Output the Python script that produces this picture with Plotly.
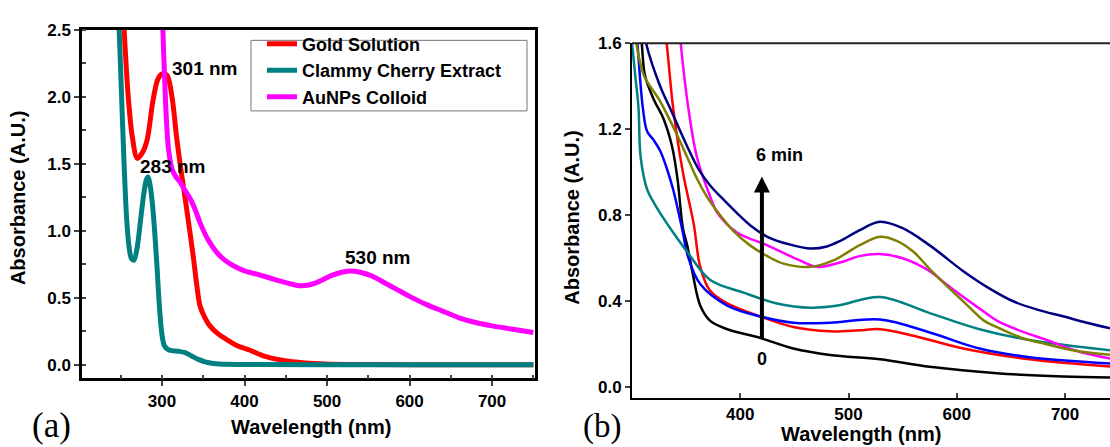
import plotly.graph_objects as go

# ---------------- Panel (a) data ----------------
gold_x = [250, 254, 259, 264, 270, 276, 282, 289, 295, 300, 306, 312, 318, 323, 328, 334, 338, 342, 346, 352, 358, 368, 378, 392, 406, 426, 458, 498, 550, 650, 750]
gold_y = [2.9, 2.5, 2.0, 1.7, 1.54, 1.58, 1.68, 1.97, 2.13, 2.17, 2.16, 2.0, 1.68, 1.45, 1.24, 0.98, 0.80, 0.60, 0.44, 0.35, 0.29, 0.23, 0.19, 0.14, 0.11, 0.06, 0.022, 0.006, 0.002, 0.0, 0.0]

cherry_x = [244, 248, 251, 254, 257, 260, 263, 266, 270, 274, 278, 281, 283, 285, 288, 291, 294, 297, 300, 303, 307, 312, 320, 328, 336, 344, 352, 362, 380, 420, 500, 750]
cherry_y = [3.0, 2.5, 2.0, 1.5, 1.1, 0.88, 0.79, 0.78, 0.88, 1.08, 1.28, 1.38, 1.40, 1.36, 1.22, 1.0, 0.72, 0.42, 0.22, 0.14, 0.115, 0.105, 0.10, 0.09, 0.065, 0.04, 0.022, 0.01, 0.003, 0.001, 0.0, 0.0]

aunp_x = [298, 301, 304, 306, 308, 312, 317, 322, 328, 334, 340, 346, 356, 366, 376, 386, 400, 418, 440, 455, 466, 478, 490, 505, 518, 529, 540, 555, 570, 585, 600, 620, 640, 660, 680, 700, 725, 750]
aunp_y = [3.2, 2.5, 2.0, 1.75, 1.6, 1.46, 1.40, 1.36, 1.30, 1.24, 1.16, 1.06, 0.93, 0.84, 0.78, 0.74, 0.70, 0.67, 0.63, 0.605, 0.59, 0.595, 0.62, 0.665, 0.69, 0.70, 0.69, 0.66, 0.61, 0.56, 0.51, 0.45, 0.40, 0.35, 0.315, 0.29, 0.265, 0.24]

series_a_names = ["Gold Solution", "Clammy Cherry Extract", "AuNPs Colloid"]
series_a_colors = ["#FF0000", "#008080", "#FF00FF"]

peak_labels = ["301 nm", "283 nm", "530 nm"]
peak_label_x = [351, 313, 561]
peak_label_y = [2.21, 1.48, 0.80]

# ---------------- Panel (b) data (time series) ----------------
t0_x = [305, 309, 312, 320, 329, 337, 342, 347, 351, 356, 363, 372, 388, 418, 449, 483, 529, 575, 637, 698, 745]
t0_y = [1.8, 1.6, 1.45, 1.34, 1.25, 1.12, 0.97, 0.74, 0.66, 0.53, 0.38, 0.31, 0.27, 0.23, 0.18, 0.15, 0.13, 0.095, 0.065, 0.05, 0.045]

t1_x = [328, 332, 338, 347, 357, 363, 372, 388, 418, 449, 483, 510, 529, 560, 606, 667, 745]
t1_y = [1.75, 1.6, 1.30, 1.0, 0.76, 0.56, 0.45, 0.39, 0.33, 0.28, 0.26, 0.265, 0.27, 0.24, 0.18, 0.13, 0.095]

t2_x = [300, 305, 310, 314, 320, 326, 332, 338, 347, 351, 363, 388, 418, 449, 483, 529, 575, 621, 667, 745]
t2_y = [1.9, 1.6, 1.30, 1.19, 1.15, 1.10, 1.02, 0.92, 0.72, 0.62, 0.48, 0.38, 0.33, 0.30, 0.30, 0.315, 0.255, 0.18, 0.14, 0.11]

t3_x = [300, 303, 306, 308, 314, 320, 326, 338, 351, 372, 403, 434, 465, 490, 529, 575, 621, 667, 745]
t3_y = [1.6, 1.45, 1.30, 1.07, 0.92, 0.86, 0.81, 0.72, 0.63, 0.50, 0.44, 0.39, 0.37, 0.38, 0.42, 0.345, 0.27, 0.22, 0.17]

t4_x = [340, 345, 352, 360, 372, 379, 397, 425, 455, 471, 492, 510, 529, 550, 575, 590, 606, 620, 637, 660, 683, 710, 745]
t4_y = [1.9, 1.6, 1.30, 1.07, 0.89, 0.81, 0.72, 0.66, 0.59, 0.56, 0.58, 0.61, 0.62, 0.60, 0.54, 0.48, 0.42, 0.37, 0.31, 0.26, 0.22, 0.17, 0.13]

t5_x = [300, 304, 311, 326, 342, 351, 360, 370, 380, 395, 409, 425, 440, 465, 486, 510, 529, 545, 560, 575, 591, 610, 625, 637, 660, 683, 710, 745]
t5_y = [1.75, 1.6, 1.45, 1.33, 1.17, 1.07, 0.97, 0.88, 0.81, 0.72, 0.66, 0.61, 0.575, 0.56, 0.59, 0.66, 0.70, 0.68, 0.63, 0.55, 0.47, 0.38, 0.31, 0.28, 0.23, 0.20, 0.17, 0.15]

t6_x = [308, 313, 326, 335, 351, 362, 372, 385, 397, 410, 425, 445, 465, 480, 492, 510, 529, 550, 575, 606, 630, 652, 675, 698, 720, 745]
t6_y = [1.75, 1.6, 1.40, 1.30, 1.12, 1.01, 0.94, 0.87, 0.81, 0.75, 0.70, 0.665, 0.645, 0.655, 0.68, 0.73, 0.77, 0.74, 0.66, 0.54, 0.46, 0.40, 0.36, 0.33, 0.30, 0.27]

series_b_colors = ["#000000", "#FF0000", "#0000FF", "#008080", "#FF00FF", "#808000", "#000080"]

arrow_x = 420
arrow_y_start = 0.22
arrow_y_end = 0.98
arrow_labels = ["6 min", "0"]

xticks_a = [300, 400, 500, 600, 700]
yticks_a = [0.0, 0.5, 1.0, 1.5, 2.0, 2.5]
xticks_b = [400, 500, 600, 700]
yticks_b = [0.0, 0.4, 0.8, 1.2, 1.6]

# ---------------- Figure ----------------
W, H = 1110, 447
FONT = "Arial, 'Liberation Sans', sans-serif"

def px_x(p):
    return p / W

def px_y(p):
    return 1 - p / H

fig = go.Figure()

for xs, ys, name, col in zip([gold_x, cherry_x, aunp_x], [gold_y, cherry_y, aunp_y],
                             series_a_names, series_a_colors):
    fig.add_trace(go.Scatter(x=xs, y=ys, name=name, mode="lines",
                             line=dict(color=col, width=5, shape="spline", smoothing=0.9),
                             xaxis="x", yaxis="y"))

for xs, ys, col in zip([t0_x, t1_x, t2_x, t3_x, t4_x, t5_x, t6_x],
                       [t0_y, t1_y, t2_y, t3_y, t4_y, t5_y, t6_y], series_b_colors):
    fig.add_trace(go.Scatter(x=xs, y=ys, mode="lines", showlegend=False,
                             line=dict(color=col, width=2.5, shape="spline", smoothing=1.0),
                             xaxis="x2", yaxis="y2"))

tickfont = dict(family=FONT, size=17, color="black", weight="bold")

fig.update_layout(
    width=W, height=H,
    margin=dict(l=0, r=0, t=0, b=0),
    paper_bgcolor="white", plot_bgcolor="white",
    font=dict(family=FONT, color="black"),
    xaxis=dict(domain=[px_x(82), px_x(535)], range=[203, 752], anchor="y",
               tickvals=xticks_a, ticks="outside", ticklen=5, tickwidth=1.5,
               minor=dict(ticks="inside", ticklen=4, dtick=50, tickwidth=1.5),
               showline=True, linewidth=2.5, linecolor="black", mirror=True,
               showgrid=False, zeroline=False, tickfont=tickfont),
    yaxis=dict(domain=[px_y(377), px_y(21)], range=[-0.102, 2.5], anchor="x",
               tickvals=yticks_a, ticktext=["0.0", "0.5", "1.0", "1.5", "2.0", "2.5"],
               ticks="outside", ticklen=5, tickwidth=1.5,
               minor=dict(ticks="inside", ticklen=4, dtick=0.25, tickwidth=1.5),
               showline=True, linewidth=2.5, linecolor="black", mirror=True,
               showgrid=False, zeroline=False, tickfont=tickfont),
    xaxis2=dict(domain=[px_x(632), 1.0], range=[300, 741.5], anchor="y2",
                tickvals=xticks_b, ticks="inside", ticklen=5, tickwidth=1.5,
                showline=True, linewidth=2, linecolor="black", mirror=False,
                showgrid=False, zeroline=False, tickfont=tickfont),
    yaxis2=dict(domain=[px_y(397), px_y(35)], range=[-0.05, 1.6], anchor="x2",
                tickvals=yticks_b, ticktext=["0.0", "0.4", "0.8", "1.2", "1.6"],
                ticks="outside", ticklen=5, tickwidth=1.5,
                showline=True, linewidth=2, linecolor="black", mirror=False,
                showgrid=False, zeroline=False, tickfont=tickfont),
    legend=dict(x=px_x(262), y=px_y(17), xanchor="left", yanchor="top",
                borderwidth=0, bgcolor="rgba(0,0,0,0)",
                font=dict(family=FONT, size=18, color="black", weight="bold"),
                tracegroupgap=0),
    showlegend=True,
)

# legend frame
fig.add_shape(type="rect", xref="paper", yref="paper",
              x0=px_x(251), x1=px_x(527), y0=px_y(104), y1=px_y(32),
              line=dict(color="#777777", width=1), layer="below")

# top line of panel (b) (extends to the right edge)
fig.add_shape(type="line", xref="x2 domain", yref="y2 domain", x0=0, x1=1, y0=1, y1=1,
              line=dict(color="#222222", width=2))

anns = []
for t, xv, yv in zip(peak_labels, peak_label_x, peak_label_y):
    anns.append(dict(x=xv, y=yv, xref="x", yref="y", text=t, showarrow=False,
                     xanchor="center", yanchor="middle",
                     font=dict(family=FONT, size=19, color="black", weight="bold")))

# arrow in (b)
anns.append(dict(x=arrow_x, y=arrow_y_end, ax=arrow_x, ay=arrow_y_start, xref="x2", yref="y2",
                 axref="x2", ayref="y2", showarrow=True, arrowhead=2, arrowsize=0.8,
                 arrowwidth=4, arrowcolor="black", text=""))
anns.append(dict(x=arrow_x + 16, y=1.08, xref="x2", yref="y2", text=arrow_labels[0], showarrow=False,
                 xanchor="center", yanchor="middle",
                 font=dict(family=FONT, size=18, color="black", weight="bold")))
anns.append(dict(x=arrow_x, y=0.13, xref="x2", yref="y2", text=arrow_labels[1], showarrow=False,
                 xanchor="center", yanchor="middle",
                 font=dict(family=FONT, size=18, color="black", weight="bold")))

# axis titles
title_font = dict(family=FONT, size=20, color="black", weight="bold")
for txt, cx, cy, ang in [("Absorbance (A.U.)", 18, 193, -90),
                         ("Absorbance (A.U.)", 572, 213, -90),
                         ("Wavelength (nm)", 311, 427, 0),
                         ("Wavelength (nm)", 861, 434, 0)]:
    anns.append(dict(x=px_x(cx), y=px_y(cy), xref="paper", yref="paper", text=txt,
                     textangle=ang, showarrow=False, xanchor="center", yanchor="middle",
                     font=title_font))

# panel letters
letter_font = dict(family="'Times New Roman', 'Liberation Serif', serif", size=35, color="black")
anns.append(dict(x=px_x(51), y=px_y(425), xref="paper", yref="paper", text="(a)",
                 showarrow=False, xanchor="center", yanchor="middle", font=letter_font))
anns.append(dict(x=px_x(602), y=px_y(426), xref="paper", yref="paper", text="(b)",
                 showarrow=False, xanchor="center", yanchor="middle",
                 font=dict(family="'Times New Roman', 'Liberation Serif', serif", size=33, color="black")))

fig.update_layout(annotations=anns)

fig.write_html("out.html")
